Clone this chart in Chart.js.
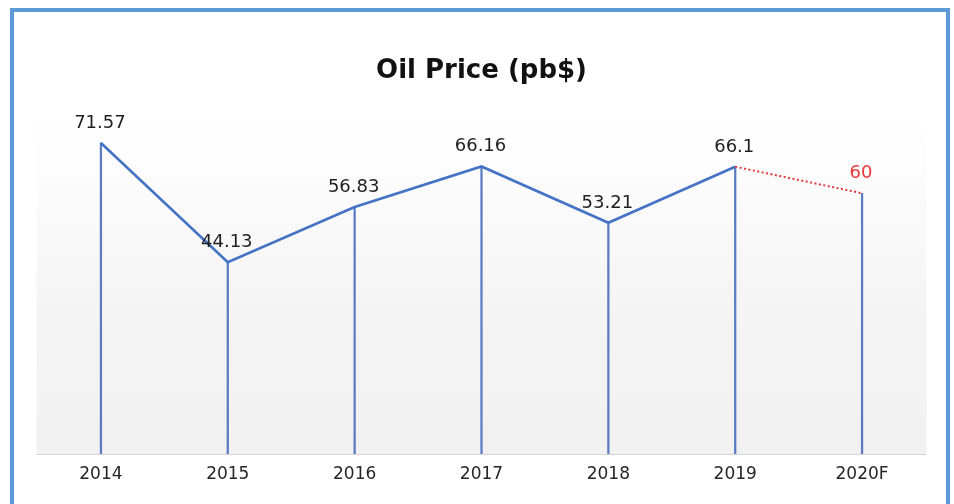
<!DOCTYPE html>
<html>
<head>
<meta charset="utf-8">
<script src="https://cdn.jsdelivr.net/npm/chart.js@4"></script>
<style>
  html, body { margin: 0; padding: 0; background: #ffffff; overflow: hidden; }
  #wrap { position: relative; width: 954px; height: 504px; }
  #frame { position: absolute; left: 10px; top: 8px; width: 932px; height: 560px; border: 4px solid #5b9bd5; box-sizing: content-box; }
  canvas { position: absolute; left: 0; top: 0; }
</style>
</head>
<body>
<div id="wrap">
  <div id="frame"></div>
  <canvas id="c" width="954" height="504"></canvas>
</div>
<script>
// ---- data ----
const categories = ['2014', '2015', '2016', '2017', '2018', '2019', '2020F'];
const prices = [71.57, 44.13, 56.83, 66.16, 53.21, 66.1, 60];
const forecastIndex = 6;
const chartTitle = 'Oil Price (pb$)';

const BLUE = '#4472c4';
const DROP = '#5b7cc2';
const RED = '#e8363a';
const FONT = '"DejaVu Sans", "Liberation Sans", Arial, sans-serif';

const backgroundPlugin = {
  id: 'plotBackground',
  beforeDatasetsDraw(chart) {
    const { ctx, chartArea: a } = chart;
    const g = ctx.createLinearGradient(0, a.top, 0, a.bottom);
    g.addColorStop(0, '#ffffff');
    g.addColorStop(0.15, '#fdfdfd');
    g.addColorStop(0.6, '#f4f4f4');
    g.addColorStop(1, '#f1f1f1');
    ctx.save();
    ctx.fillStyle = g;
    ctx.fillRect(a.left - 1, a.top, a.right - a.left + 2, a.bottom - a.top);
    ctx.restore();
  }
};

const valueLabels = {
  id: 'valueLabels',
  afterDatasetsDraw(chart) {
    const meta = chart.getDatasetMeta(0);
    const ctx = chart.ctx;
    ctx.save();
    ctx.font = '18px ' + FONT;
    ctx.textAlign = 'center';
    ctx.textBaseline = 'alphabetic';
    meta.data.forEach((pt, i) => {
      ctx.fillStyle = i === forecastIndex ? RED : '#1e1e1e';
      ctx.fillText(String(prices[i]), pt.x - 1, pt.y - 15);
    });
    ctx.restore();
  }
};

new Chart(document.getElementById('c'), {
  type: 'bar',
  data: {
    labels: categories,
    datasets: [
      {
        type: 'line',
        label: 'Oil Price',
        data: prices,
        order: 0,
        borderColor: BLUE,
        borderWidth: 2.6,
        pointRadius: 0,
        tension: 0,
        fill: false,
        segment: {
          borderColor: c => c.p1DataIndex === forecastIndex ? RED : BLUE,
          borderDash: c => c.p1DataIndex === forecastIndex ? [2, 2.5] : undefined,
          borderWidth: c => c.p1DataIndex === forecastIndex ? 2 : 2.6
        }
      },
      {
        type: 'bar',
        label: 'drop',
        data: prices,
        order: 1,
        backgroundColor: DROP,
        barThickness: 1.6,
        borderWidth: 0
      }
    ]
  },
  options: {
    responsive: false,
    animation: false,
    devicePixelRatio: 1,
    layout: { padding: { left: 37.5, right: 28.5, top: 0, bottom: 9.6 } },
    plugins: {
      legend: { display: false },
      tooltip: { enabled: false },
      title: {
        display: true,
        text: chartTitle,
        color: '#111111',
        font: { family: FONT, size: 26, weight: 'bold', lineHeight: 1.2 },
        padding: { top: 55.4, bottom: 19.7 }
      }
    },
    scales: {
      x: {
        offset: true,
        grid: { display: false, drawTicks: false },
        border: { display: true, color: '#d4d4d4', width: 1 },
        ticks: { color: '#262626', font: { family: FONT, size: 17 }, padding: 10, maxRotation: 0 }
      },
      y: {
        display: false,
        min: 0,
        max: 80
      }
    }
  },
  plugins: [backgroundPlugin, valueLabels]
});
</script>
</body>
</html>
